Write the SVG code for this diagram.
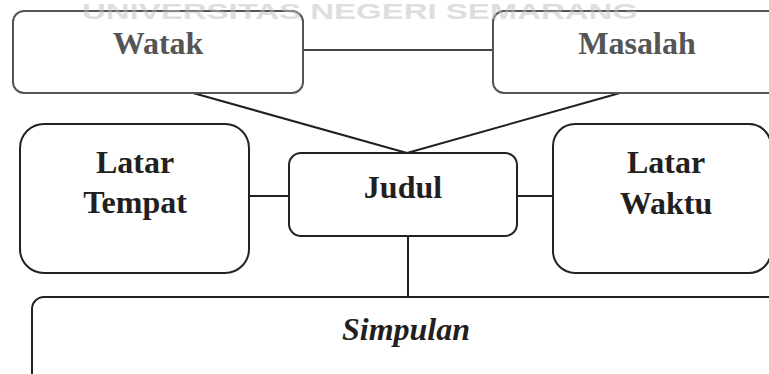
<svg xmlns="http://www.w3.org/2000/svg" width="769" height="374" viewBox="0 0 769 374">
  <style>
    .box { fill: #ffffff; stroke: #222222; stroke-width: 2; }
    .boxg { fill: #ffffff; stroke: #555555; stroke-width: 2; }
    .lbl { font-family: "Liberation Serif", "Times New Roman", serif; font-weight: bold; font-size: 32px; fill: #231f20; text-anchor: middle; }
    .lblg { fill: #555555; }
    .ital { font-style: italic; }
    .conn { stroke: #231f20; stroke-width: 2; fill: none; }
    .conng { stroke: #444444; stroke-width: 2; fill: none; }
    .wm { font-family: "Liberation Sans", Arial, sans-serif; font-weight: bold; font-size: 22px; fill: #bdbdbd; fill-opacity: 0.5; }
  </style>
  <rect width="769" height="374" fill="#ffffff"/>
  <g id="connectors">
    <line class="conng" x1="303" y1="50" x2="493" y2="50"/>
    <line class="conn" x1="193" y1="93" x2="407" y2="153"/>
    <line class="conn" x1="620" y1="93" x2="407" y2="153"/>
    <line class="conn" x1="249" y1="196" x2="289" y2="196"/>
    <line class="conn" x1="517" y1="196" x2="553" y2="196"/>
    <line class="conn" x1="408" y1="236" x2="408" y2="297"/>
  </g>
  <g id="watak">
    <rect class="boxg" x="13" y="11" width="290" height="82" rx="11"/>
    <text class="lbl lblg" x="158" y="54">Watak</text>
  </g>
  <g id="masalah">
    <rect class="boxg" x="493" y="11" width="290" height="82" rx="11"/>
    <text class="lbl lblg" x="637" y="54">Masalah</text>
  </g>
  <g id="latar-tempat">
    <rect class="box" x="20" y="124" width="229" height="149" rx="24"/>
    <text class="lbl" x="135" y="173">Latar</text>
    <text class="lbl" x="135" y="213">Tempat</text>
  </g>
  <g id="judul">
    <rect class="box" x="289" y="153" width="228" height="83" rx="12"/>
    <text class="lbl" x="403" y="198">Judul</text>
  </g>
  <g id="latar-waktu">
    <rect class="box" x="553" y="124" width="218" height="149" rx="22"/>
    <text class="lbl" x="666" y="173">Latar</text>
    <text class="lbl" x="666" y="214">Waktu</text>
  </g>
  <g id="simpulan">
    <rect class="box" x="32" y="297" width="760" height="100" rx="12"/>
    <text class="lbl ital" x="406" y="340">Simpulan</text>
  </g>
  <text class="wm" x="82" y="19" textLength="556" lengthAdjust="spacingAndGlyphs">UNIVERSITAS NEGERI SEMARANG</text>
</svg>
